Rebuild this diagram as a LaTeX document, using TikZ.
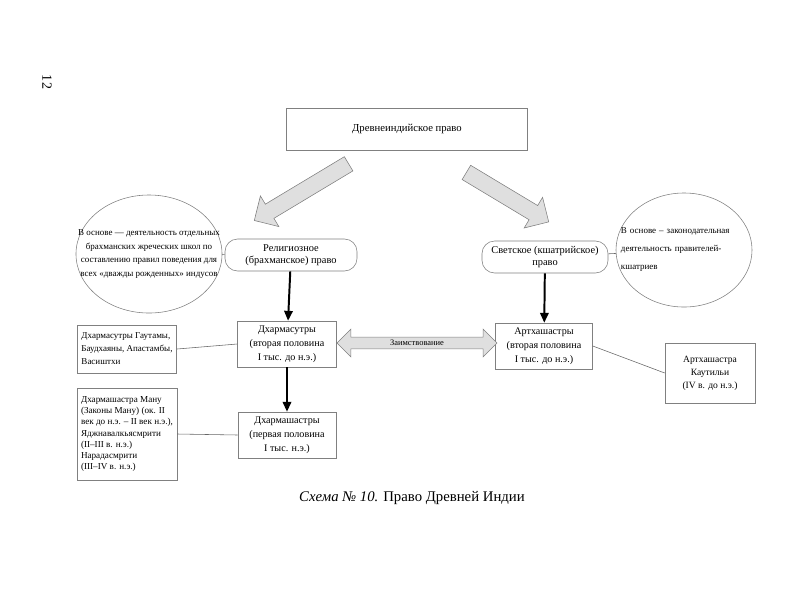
\documentclass[tikz,border=0pt]{standalone}
\usepackage{fontspec}
\setmainfont{Liberation Serif}
\usetikzlibrary{positioning,shapes.geometric,shapes.arrows,arrows.meta}

\tikzset{
  box/.style={draw=gray, align=center, inner sep=1pt, font=\fontsize{7.2}{10}\selectfont},
  rbox/.style={box, rounded corners=9pt, font=\fontsize{7.4}{8.8}\selectfont},
  note/.style={draw=gray, align=left, inner sep=3pt, font=\fontsize{6.4}{9.2}\selectfont},
  oval/.style={draw=gray, ellipse, align=center, inner ysep=0pt, inner xsep=-0.5cm,
    font=\fontsize{6.4}{9.6}\selectfont},
  fat/.style={single arrow, draw=gray, fill=gray!25, inner xsep=0pt, inner ysep=0.2cm,
    single arrow head extend=0.24cm},
  down/.style={line width=1.4pt, -{Triangle[width=6pt,length=7pt]}},
  link/.style={draw=gray!80!black, line width=0.4pt}
}

\begin{document}
\begin{tikzpicture}[x=0.025cm, y=-0.025cm]
\useasboundingbox (0,0) rectangle (800,600);

\node[rotate=-90, font=\fontsize{10}{12}\selectfont] (pg) at (47,82) {12};

\node[box, minimum width=6.025cm, minimum height=1.05cm, font=\fontsize{7.6}{9}\selectfont] (law) at (407,129) {Древнеиндийское право};

\node[rbox, minimum width=3.3cm, minimum height=0.8cm] (rel) at (291,255) {Религиозное\\(брахманское) право};
\node[rbox, minimum width=3.15cm, minimum height=0.8cm] (sec) at (545,257) {Светское (кшатрийское)\\право};

\node[fat, minimum height=2.75cm, rotate=211] (fl) at (305,190) {};
\node[fat, minimum height=2.4cm, rotate=-31] (fr) at (504,195) {};

\node[oval, minimum width=3.65cm, minimum height=2.95cm] (ol) at (149,254)
  {В основе --- деятельность отдельных\\брахманских жреческих школ по\\составлению правил поведения для\\всех «дважды рожденных» индусов};
\node[oval, minimum width=3.4cm, minimum height=2.85cm, align=left, text width=3.15cm, inner xsep=-0.6cm,
  font=\fontsize{6.4}{12.8}\selectfont] (or) at (684,250)
  {В основе -- законодательная\\деятельность правителей-\\кшатриев};

\node[box, minimum width=2.475cm, minimum height=1.15cm] (sut) at (287,344) {Дхармасутры\\(вторая половина\\I тыс. до н.э.)};
\node[box, minimum width=2.45cm, minimum height=1.15cm] (sha) at (287,435) {Дхармашастры\\(первая половина\\I тыс. н.э.)};
\node[box, minimum width=2.425cm, minimum height=1.15cm] (art) at (544,346) {Артхашастры\\(вторая половина\\I тыс. до н.э.)};

\node[note, minimum width=2.45cm, minimum height=1.2cm] (sutl) at (127,349) {Дхармасутры Гаутамы,\\Баудхаяны, Апастамбы,\\Васиштхи};
\node[note, minimum width=2.45cm, minimum height=2.3cm, font=\fontsize{6.5}{8}\selectfont] (shal) at (127,434)
  {Дхармашастра Ману\\(Законы Ману) (ок. II\\век до н.э. -- II век н.э.),\\Яджнавалкьясмрити\\(II--III в. н.э.)\\Нарадасмрити\\(III--IV в. н.э.)};
\node[note, align=center, minimum width=2.25cm, minimum height=1.5cm, font=\fontsize{6.8}{9.2}\selectfont] (kau) at (710,373) {Артхашастра\\Каутильи\\(IV в. до н.э.)};

\node[double arrow, draw=gray, fill=gray!25, inner ysep=0.07cm, double arrow head extend=0.2cm,
  minimum height=4cm, font=\fontsize{6}{7}\selectfont] (zaim) at (417,343) {Заимствование};

\node[font=\fontsize{10.5}{13}\selectfont] (cap) at (412,498) {\textit{Схема № 10.} Право Древней Индии};

\draw[down] (rel) -- (sut);
\draw[down] (sut) -- (sha);
\draw[down] (sec) -- (art);
\draw[link] (ol) -- (rel);
\draw[link] (sec) -- (or);
\draw[link] (sutl.east) -- (sut.west);
\draw[link] (shal.east) -- (sha.west);
\draw[link] (art.east) -- (kau.west);
\end{tikzpicture}
\end{document}
